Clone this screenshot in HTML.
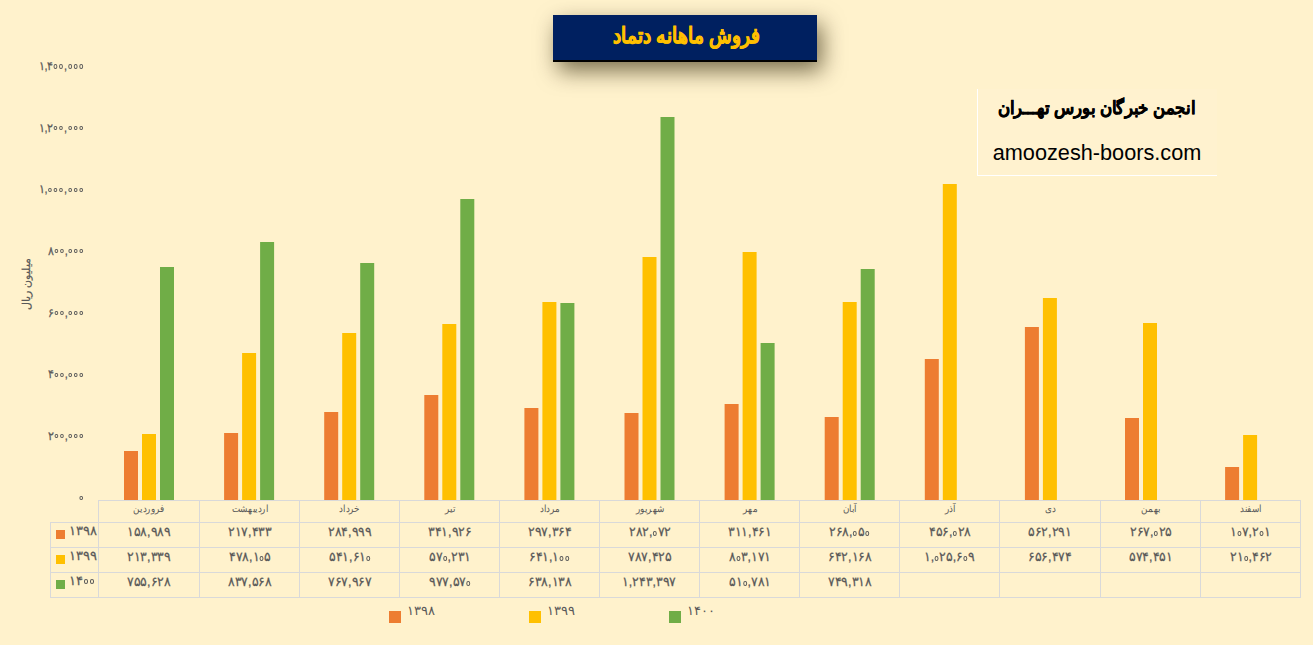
<!DOCTYPE html>
<html><head><meta charset="utf-8">
<style>
html,body{margin:0;padding:0;}
body{width:1313px;height:645px;overflow:hidden;background:#FFF2CC;position:relative;font-family:"Liberation Sans",sans-serif;color:#595959;}
svg{position:absolute;left:0;top:0;}
.yl{position:absolute;right:1229px;font-size:12px;line-height:18px;white-space:nowrap;direction:ltr;transform:scaleX(0.92);transform-origin:right center;-webkit-text-stroke:0.25px #595959;}
.mo{position:absolute;top:502px;text-align:center;font-size:10px;line-height:14px;white-space:nowrap;}
.mo span{display:inline-block;transform:scaleX(0.88);}
.val{position:absolute;text-align:center;font-size:13px;line-height:16px;white-space:nowrap;direction:ltr;}
.val span{display:inline-block;transform:scaleX(0.96);-webkit-text-stroke:0.25px #595959;}
.tl{position:absolute;left:69px;font-size:13px;line-height:16px;white-space:nowrap;direction:ltr;-webkit-text-stroke:0.25px #595959;}
.lg{position:absolute;top:603px;font-size:13px;line-height:16px;white-space:nowrap;direction:ltr;}
i.z{display:inline-block;width:2px;height:2.6px;border:0.9px solid currentColor;border-radius:50%;vertical-align:0px;margin:0 0.7px;}
i.zt{display:inline-block;width:2.4px;height:2.6px;border:1.1px solid currentColor;border-radius:50%;vertical-align:1.5px;margin:0 0.9px;}
i.zy{display:inline-block;width:2px;height:2.2px;border:1.2px solid currentColor;border-radius:50%;vertical-align:1.5px;margin:0 1px;}
.title{position:absolute;left:553px;top:15px;width:264px;height:47px;background:#002060;border-bottom:2px solid #000;box-shadow:5px 9px 22px rgba(40,30,0,0.62);color:#FFC000;font-weight:bold;font-size:21.5px;line-height:43px;text-align:center;direction:rtl;padding-left:3px;box-sizing:border-box;}
.title span{display:inline-block;transform:scaleX(0.845);-webkit-text-stroke:0.7px #FFC000;}
.wm{position:absolute;left:977px;top:89px;width:239px;height:86px;border-left:1.5px solid #fff;border-bottom:1.5px solid #fff;background:rgba(255,255,255,0.06);}
.wm1{position:absolute;left:937px;top:93px;width:320px;text-align:center;font-weight:bold;font-size:18px;line-height:30px;color:#000;direction:rtl;white-space:nowrap;}
.wm1 span{display:inline-block;transform:scaleX(0.92);-webkit-text-stroke:0.5px #000;}
.wm2{position:absolute;left:977px;top:140px;width:240px;text-align:center;font-size:21.7px;line-height:26px;color:#000;}
.yt{position:absolute;left:-4px;top:276px;width:60px;text-align:center;font-size:10.5px;line-height:16px;transform:rotate(-90deg);white-space:nowrap;-webkit-text-stroke:0.2px #595959;}
</style></head><body>
<svg width="1313" height="645" viewBox="0 0 1313 645"><rect x="124.00" y="451" width="14" height="49" fill="#ED7D31"/><rect x="142.00" y="434" width="14" height="66" fill="#FFC000"/><rect x="160.00" y="267" width="14" height="233" fill="#70AD47"/><rect x="224.10" y="433" width="14" height="67" fill="#ED7D31"/><rect x="242.10" y="353" width="14" height="147" fill="#FFC000"/><rect x="260.10" y="242" width="14" height="258" fill="#70AD47"/><rect x="324.20" y="412" width="14" height="88" fill="#ED7D31"/><rect x="342.20" y="333" width="14" height="167" fill="#FFC000"/><rect x="360.20" y="263" width="14" height="237" fill="#70AD47"/><rect x="424.30" y="395" width="14" height="105" fill="#ED7D31"/><rect x="442.30" y="324" width="14" height="176" fill="#FFC000"/><rect x="460.30" y="199" width="14" height="301" fill="#70AD47"/><rect x="524.40" y="408" width="14" height="92" fill="#ED7D31"/><rect x="542.40" y="302" width="14" height="198" fill="#FFC000"/><rect x="560.40" y="303" width="14" height="197" fill="#70AD47"/><rect x="624.50" y="413" width="14" height="87" fill="#ED7D31"/><rect x="642.50" y="257" width="14" height="243" fill="#FFC000"/><rect x="660.50" y="117" width="14" height="383" fill="#70AD47"/><rect x="724.60" y="404" width="14" height="96" fill="#ED7D31"/><rect x="742.60" y="252" width="14" height="248" fill="#FFC000"/><rect x="760.60" y="343" width="14" height="157" fill="#70AD47"/><rect x="824.70" y="417" width="14" height="83" fill="#ED7D31"/><rect x="842.70" y="302" width="14" height="198" fill="#FFC000"/><rect x="860.70" y="269" width="14" height="231" fill="#70AD47"/><rect x="924.80" y="359" width="14" height="141" fill="#ED7D31"/><rect x="942.80" y="184" width="14" height="316" fill="#FFC000"/><rect x="1024.90" y="327" width="14" height="173" fill="#ED7D31"/><rect x="1042.90" y="298" width="14" height="202" fill="#FFC000"/><rect x="1125.00" y="418" width="14" height="82" fill="#ED7D31"/><rect x="1143.00" y="323" width="14" height="177" fill="#FFC000"/><rect x="1225.10" y="467" width="14" height="33" fill="#ED7D31"/><rect x="1243.10" y="435" width="14" height="65" fill="#FFC000"/><g fill="#D9D9D9"><rect x="98" y="500" width="1203" height="1"/><rect x="50" y="522" width="1251" height="1"/><rect x="50" y="547" width="1251" height="1"/><rect x="50" y="572" width="1251" height="1"/><rect x="50" y="597" width="1251" height="1"/><rect x="98" y="500" width="1" height="98"/><rect x="199" y="500" width="1" height="98"/><rect x="299" y="500" width="1" height="98"/><rect x="399" y="500" width="1" height="98"/><rect x="499" y="500" width="1" height="98"/><rect x="599" y="500" width="1" height="98"/><rect x="699" y="500" width="1" height="98"/><rect x="799" y="500" width="1" height="98"/><rect x="899" y="500" width="1" height="98"/><rect x="999" y="500" width="1" height="98"/><rect x="1100" y="500" width="1" height="98"/><rect x="1200" y="500" width="1" height="98"/><rect x="1300" y="500" width="1" height="98"/><rect x="50" y="522" width="1" height="76"/></g><rect x="56" y="530" width="9" height="9" fill="#ED7D31"/><rect x="56" y="555" width="9" height="9" fill="#FFC000"/><rect x="56" y="580" width="9" height="9" fill="#70AD47"/><rect x="389" y="611" width="12" height="12" fill="#ED7D31"/><rect x="529" y="611" width="12" height="12" fill="#FFC000"/><rect x="669" y="611" width="12" height="12" fill="#70AD47"/></svg>
<div class="yl" style="top:488.5px"><i class="zy"></i></div><div class="yl" style="top:426.9px">۲<i class="zy"></i><i class="zy"></i>,<i class="zy"></i><i class="zy"></i><i class="zy"></i></div><div class="yl" style="top:365.2px">۴<i class="zy"></i><i class="zy"></i>,<i class="zy"></i><i class="zy"></i><i class="zy"></i></div><div class="yl" style="top:303.6px">۶<i class="zy"></i><i class="zy"></i>,<i class="zy"></i><i class="zy"></i><i class="zy"></i></div><div class="yl" style="top:241.9px">۸<i class="zy"></i><i class="zy"></i>,<i class="zy"></i><i class="zy"></i><i class="zy"></i></div><div class="yl" style="top:180.3px">۱,<i class="zy"></i><i class="zy"></i><i class="zy"></i>,<i class="zy"></i><i class="zy"></i><i class="zy"></i></div><div class="yl" style="top:118.7px">۱,۲<i class="zy"></i><i class="zy"></i>,<i class="zy"></i><i class="zy"></i><i class="zy"></i></div><div class="yl" style="top:57.0px">۱,۴<i class="zy"></i><i class="zy"></i>,<i class="zy"></i><i class="zy"></i><i class="zy"></i></div><div class="mo" style="left:99px;width:100px"><span>فروردین</span></div><div class="mo" style="left:200px;width:99px"><span>اردیبهشت</span></div><div class="mo" style="left:300px;width:99px"><span>خرداد</span></div><div class="mo" style="left:400px;width:99px"><span>تیر</span></div><div class="mo" style="left:500px;width:99px"><span>مرداد</span></div><div class="mo" style="left:600px;width:99px"><span>شهریور</span></div><div class="mo" style="left:700px;width:99px"><span>مهر</span></div><div class="mo" style="left:800px;width:99px"><span>آبان</span></div><div class="mo" style="left:900px;width:99px"><span>آذر</span></div><div class="mo" style="left:1000px;width:100px"><span>دی</span></div><div class="mo" style="left:1101px;width:99px"><span>بهمن</span></div><div class="mo" style="left:1201px;width:99px"><span>اسفند</span></div><div class="val" style="left:99px;width:100px;top:524.0px"><span>۱۵۸,۹۸۹</span></div><div class="val" style="left:200px;width:99px;top:524.0px"><span>۲۱۷,۴۳۳</span></div><div class="val" style="left:300px;width:99px;top:524.0px"><span>۲۸۴,۹۹۹</span></div><div class="val" style="left:400px;width:99px;top:524.0px"><span>۳۴۱,۹۲۶</span></div><div class="val" style="left:500px;width:99px;top:524.0px"><span>۲۹۷,۳۶۴</span></div><div class="val" style="left:600px;width:99px;top:524.0px"><span>۲۸۲,<i class="z"></i>۷۲</span></div><div class="val" style="left:700px;width:99px;top:524.0px"><span>۳۱۱,۴۶۱</span></div><div class="val" style="left:800px;width:99px;top:524.0px"><span>۲۶۸,<i class="z"></i>۵<i class="z"></i></span></div><div class="val" style="left:900px;width:99px;top:524.0px"><span>۴۵۶,<i class="z"></i>۲۸</span></div><div class="val" style="left:1000px;width:100px;top:524.0px"><span>۵۶۲,۲۹۱</span></div><div class="val" style="left:1101px;width:99px;top:524.0px"><span>۲۶۷,<i class="z"></i>۲۵</span></div><div class="val" style="left:1201px;width:99px;top:524.0px"><span>۱<i class="z"></i>۷,۲<i class="z"></i>۱</span></div><div class="val" style="left:99px;width:100px;top:549.0px"><span>۲۱۳,۳۳۹</span></div><div class="val" style="left:200px;width:99px;top:549.0px"><span>۴۷۸,۱<i class="z"></i>۵</span></div><div class="val" style="left:300px;width:99px;top:549.0px"><span>۵۴۱,۶۱<i class="z"></i></span></div><div class="val" style="left:400px;width:99px;top:549.0px"><span>۵۷<i class="z"></i>,۲۳۱</span></div><div class="val" style="left:500px;width:99px;top:549.0px"><span>۶۴۱,۱<i class="z"></i><i class="z"></i></span></div><div class="val" style="left:600px;width:99px;top:549.0px"><span>۷۸۷,۴۲۵</span></div><div class="val" style="left:700px;width:99px;top:549.0px"><span>۸<i class="z"></i>۳,۱۷۱</span></div><div class="val" style="left:800px;width:99px;top:549.0px"><span>۶۴۲,۱۶۸</span></div><div class="val" style="left:900px;width:99px;top:549.0px"><span>۱,<i class="z"></i>۲۵,۶<i class="z"></i>۹</span></div><div class="val" style="left:1000px;width:100px;top:549.0px"><span>۶۵۶,۴۷۴</span></div><div class="val" style="left:1101px;width:99px;top:549.0px"><span>۵۷۴,۴۵۱</span></div><div class="val" style="left:1201px;width:99px;top:549.0px"><span>۲۱<i class="z"></i>,۴۶۲</span></div><div class="val" style="left:99px;width:100px;top:574.0px"><span>۷۵۵,۶۲۸</span></div><div class="val" style="left:200px;width:99px;top:574.0px"><span>۸۳۷,۵۶۸</span></div><div class="val" style="left:300px;width:99px;top:574.0px"><span>۷۶۷,۹۶۷</span></div><div class="val" style="left:400px;width:99px;top:574.0px"><span>۹۷۷,۵۷<i class="z"></i></span></div><div class="val" style="left:500px;width:99px;top:574.0px"><span>۶۳۸,۱۳۸</span></div><div class="val" style="left:600px;width:99px;top:574.0px"><span>۱,۲۴۳,۳۹۷</span></div><div class="val" style="left:700px;width:99px;top:574.0px"><span>۵۱<i class="z"></i>,۷۸۱</span></div><div class="val" style="left:800px;width:99px;top:574.0px"><span>۷۴۹,۳۱۸</span></div><div class="tl" style="top:523px">۱۳۹۸</div><div class="tl" style="top:548px">۱۳۹۹</div><div class="tl" style="top:573px">۱۴<i class="zt"></i><i class="zt"></i></div><div class="lg" style="left:407px">۱۳۹۸</div><div class="lg" style="left:547px">۱۳۹۹</div><div class="lg" style="left:687px">۱۴۰۰</div>
<div class="yt">میلیون ریال</div>
<div class="title"><span>فروش ماهانه دتماد</span></div>
<div class="wm"></div>
<div class="wm1"><span>انجمن خبرگان بورس تهـــران</span></div>
<div class="wm2">amoozesh-boors.com</div>
</body></html>
